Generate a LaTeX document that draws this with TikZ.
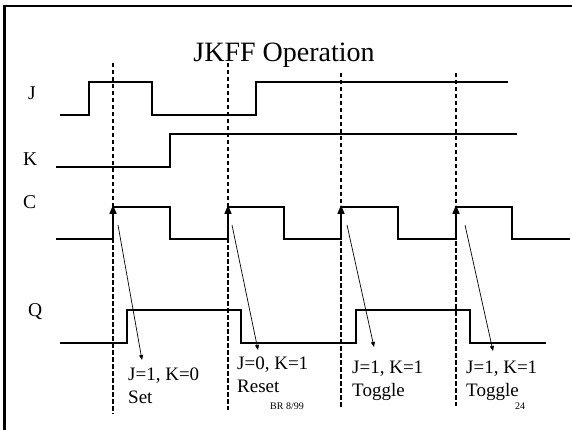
\documentclass[tikz,border=0pt]{standalone}
\usepackage{fontspec}
\setmainfont{Liberation Serif}
\usetikzlibrary{arrows.meta}

\begin{document}
\begin{tikzpicture}[x=1pt,y=-1pt,
    wave/.style={line width=1.6pt,line join=miter},
    clock edge/.style={line width=1.6pt,-{Triangle[length=9pt,width=7pt]}},
    sample line/.style={line width=1.1pt,dash pattern=on 4.5pt off 2.5pt},
    note arrow/.style={line width=0.7pt,-{Triangle[length=5pt,width=4pt]}},
    sig node/.style={font=\fontsize{19.5}{22}\selectfont,anchor=base west,inner sep=0pt},
    note node/.style={font=\fontsize{19}{23}\selectfont,align=left,anchor=north west,inner sep=0pt},
    tiny node/.style={font=\fontsize{10}{11}\selectfont,anchor=base west,inner sep=0pt}]

    \useasboundingbox (0,0) rectangle (572,430);

    % slide frame
    \draw[line width=2.2pt] (4.5,430) -- (4.5,6) -- (572,6);

    \node[font=\fontsize{28}{32}\selectfont,anchor=base] (title) at (284,62) {JKFF Operation};

    \node[sig node] (J) at (28,100) {J};
    \node[sig node] (K) at (23,166) {K};
    \node[sig node] (C) at (23,208) {C};
    \node[sig node] (Q) at (28,316) {Q};

    % sampling instants
    \foreach \x/\top/\bot in {113/63/414, 228/63/410, 341/73/408, 456/73/406}
        \draw[sample line] (\x,\top) -- (\x,\bot);

    % waveforms
    \draw[wave] (60,115) -- (89,115) -- (89,82) -- (152,82) -- (152,115)
        -- (256,115) -- (256,82) -- (508,82);
    \draw[wave] (56,167) -- (170,167) -- (170,134) -- (517,134);
    \draw[wave] (56,239) -- (113,239) -- (113,207) -- (170,207) -- (170,239)
        -- (228,239) -- (228,207) -- (284,207) -- (284,239) -- (341,239)
        -- (341,207) -- (398,207) -- (398,239) -- (456,239) -- (456,207)
        -- (512,207) -- (512,239) -- (570,239);
    \foreach \x in {113,228,341,456}
        \draw[clock edge] (\x,239) -- (\x,205);
    \draw[wave] (60,343) -- (127,343) -- (127,310) -- (241,310) -- (241,343)
        -- (356,343) -- (356,310) -- (470,310) -- (470,343) -- (546,343);

    % notes
    \node[note node] (set) at (128,368) {J=1, K=0\\Set};
    \node[note node] (reset) at (237,357) {J=0, K=1\\Reset};
    \node[note node] (tog1) at (352,361) {J=1, K=1\\Toggle};
    \node[note node] (tog2) at (466,361) {J=1, K=1\\Toggle};

    \node[tiny node] (date) at (270,409) {BR 8/99};
    \node[tiny node] (page) at (515,409) {24};

    \coordinate (e1) at (118,225);
    \coordinate (e2) at (232,225);
    \coordinate (e3) at (347,225);
    \coordinate (e4) at (465,225);
    \coordinate (t1) at (142,360);
    \coordinate (t2) at (258,350);
    \coordinate (t3) at (374,347);
    \coordinate (t4) at (493,351);

    \path[note arrow]
    (e1) edge (t1)
    (e2) edge (t2)
    (e3) edge (t3)
    (e4) edge (t4);
\end{tikzpicture}
\end{document}
